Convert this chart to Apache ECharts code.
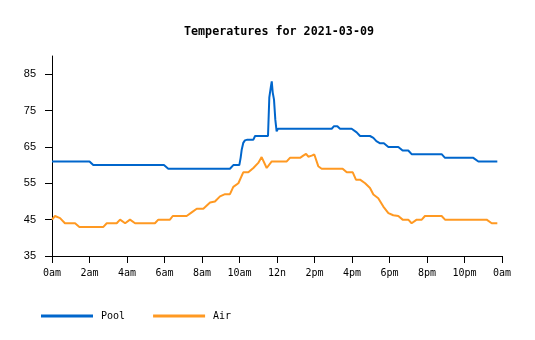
<!DOCTYPE html>
<html>
<head>
<meta charset="utf-8">
<script src="https://cdn.jsdelivr.net/npm/echarts@6/dist/echarts.min.js"></script>
<style>html,body{margin:0;padding:0;background:#fff;}#c{width:535px;height:340px;}</style>
</head>
<body>
<div id="c"></div>
<script>
var titleText = 'Temperatures for 2021-03-09';
var seriesNames = ['Pool', 'Air'];
var yTicks = [35, 45, 55, 65, 75, 85];
var xTickHours = [0, 2, 4, 6, 8, 10, 12, 14, 16, 18, 20, 22, 24];
var xTickLabels = ['0am', '2am', '4am', '6am', '8am', '10am', '12n', '2pm', '4pm', '6pm', '8pm', '10pm', '0am'];

var poolTimes = [0, 2.0, 2.2, 5.97, 6.2, 9.49, 9.58, 9.67, 9.99, 10.06,
  10.12, 10.2, 10.29, 10.42, 10.74, 10.83, 11.52, 11.59, 11.68, 11.72,
  11.77, 11.84, 11.91, 11.98, 12.05, 14.92, 15.04, 15.22, 15.36, 15.98,
  16.25, 16.43, 16.96, 17.14, 17.3, 17.5, 17.7, 17.94, 18.47, 18.7,
  19.0, 19.18, 20.78, 20.96, 22.47, 22.74, 23.75];
var poolValues = [61, 61, 60, 60, 59, 59, 59.5, 60, 60, 62,
  64.3, 66.1, 66.8, 67, 67, 68, 68, 78.6, 81.8, 83,
  80, 78, 72.5, 69.3, 70, 70, 70.7, 70.7, 70, 70,
  69, 68, 68, 67.5, 66.6, 66, 66, 65, 65, 64,
  64, 63, 63, 62, 62, 61, 61];

var airTimes = [0, 0.16, 0.43, 0.69, 1.23, 1.46, 2.74, 2.92, 3.45, 3.63,
  3.9, 4.16, 4.43, 5.49, 5.67, 6.29, 6.44, 7.18, 7.45, 7.72,
  8.07, 8.43, 8.69, 8.96, 9.23, 9.49, 9.67, 9.94, 10.2, 10.47,
  10.74, 11.0, 11.18, 11.45, 11.72, 12.52, 12.69, 13.23, 13.4, 13.55,
  13.67, 13.85, 13.99, 14.2, 14.38, 15.5, 15.72, 16.04, 16.21, 16.43,
  16.7, 16.96, 17.14, 17.4, 17.67, 17.94, 18.2, 18.47, 18.7, 19.0,
  19.18, 19.45, 19.72, 19.89, 20.78, 20.96, 23.18, 23.45, 23.75];
var airValues = [45, 46, 45.4, 44, 44, 43, 43, 44, 44, 45,
  44, 45, 44, 44, 45, 45, 46, 46, 47, 48,
  48, 49.7, 50, 51.4, 52, 52, 54, 55, 58, 58,
  59.2, 60.6, 62.2, 59.2, 61, 61, 62, 62, 62.6, 63.1,
  62.3, 62.6, 62.9, 59.7, 59, 59, 58, 58, 56, 56,
  55, 53.7, 51.9, 50.9, 48.6, 46.8, 46.2, 46, 45, 45,
  44, 45, 45, 46, 46, 45, 45, 44, 44];

function pairs(t, v) { return t.map(function (x, i) { return [x, v[i]]; }); }

var chart = echarts.init(document.getElementById('c'), null, {renderer: 'canvas'});
chart.setOption({
  animation: false,
  backgroundColor: '#ffffff',
  title: {
    text: titleText,
    left: 179, top: 21,
    textStyle: {fontFamily: 'DejaVu Sans Mono', fontSize: 11.7, fontWeight: 'bold', color: '#000'}
  },
  legend: {
    data: seriesNames,
    left: 36, top: 306,
    icon: 'rect', itemWidth: 52, itemHeight: 3, itemGap: 28,
    textStyle: {fontFamily: 'DejaVu Sans Mono', fontSize: 10, color: '#000', padding: [0, 0, 0, 3]}
  },
  grid: {left: 52, right: 33, top: 56, bottom: 84},
  xAxis: {
    type: 'value', min: 0, max: 24, interval: 2,
    axisLine: {show: true, lineStyle: {color: '#000', width: 1}},
    axisTick: {show: true, length: 7, lineStyle: {color: '#000'}},
    splitLine: {show: false},
    axisLabel: {
      fontFamily: 'DejaVu Sans Mono', fontSize: 10, color: '#000', margin: 12,
      formatter: function (v) { var i = xTickHours.indexOf(v); return i >= 0 ? xTickLabels[i] : ''; }
    }
  },
  yAxis: {
    type: 'value', min: 35, max: 90, interval: 10,
    axisLine: {show: true, lineStyle: {color: '#000', width: 1}},
    axisTick: {show: true, length: 7, lineStyle: {color: '#000'}, customValues: yTicks},
    splitLine: {show: false},
    axisLabel: {fontFamily: 'Liberation Sans', fontSize: 11, color: '#000', margin: 16, customValues: yTicks}
  },
  series: [
    {name: seriesNames[0], type: 'line', data: pairs(poolTimes, poolValues), showSymbol: false,
      lineStyle: {color: '#0066cc', width: 2}, itemStyle: {color: '#0066cc'}},
    {name: seriesNames[1], type: 'line', data: pairs(airTimes, airValues), showSymbol: false,
      lineStyle: {color: '#ff9922', width: 2}, itemStyle: {color: '#ff9922'}}
  ]
});
</script>
</body>
</html>
